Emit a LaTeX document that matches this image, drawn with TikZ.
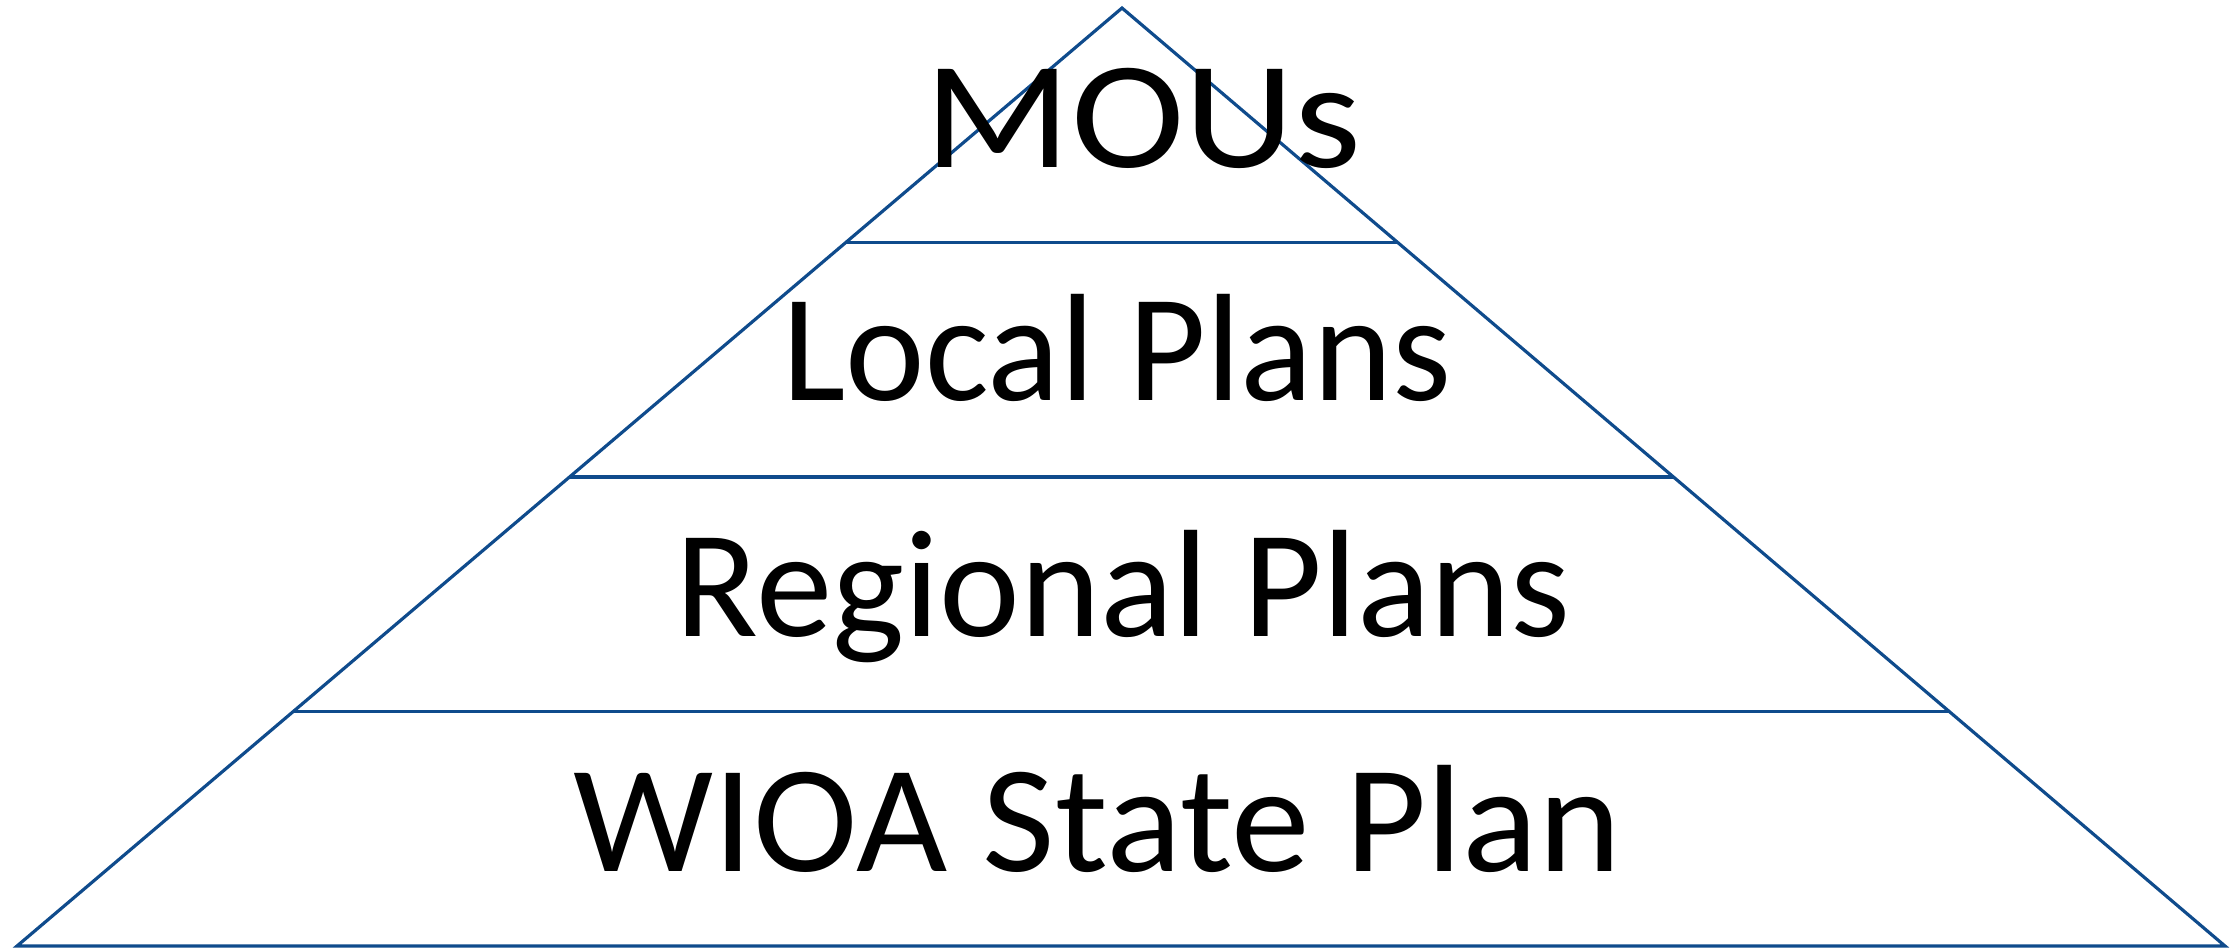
\documentclass[tikz,border=0pt]{standalone}
\usepackage{fontspec}
\setmainfont{Carlito}
\usetikzlibrary{calc}
\definecolor{tierblue}{RGB}{15,75,140}
\tikzset{
  tier/.style={draw=tierblue,line width=0.9pt},
  tiertext/.style={font=\fontsize{43.5}{52}\selectfont,anchor=base west,inner sep=0pt,transform shape}
}
\begin{document}
\begin{tikzpicture}[x=0.01cm,y=-0.01cm]
      \useasboundingbox (0,0) rectangle (2239,947);
      \coordinate (apex) at (1122,8);
      \coordinate (bl) at (17,946);
      \coordinate (br) at (2225,946);
      \foreach \t/\n in {0.25/1,0.5/2,0.75/3} {
        \coordinate (l\n) at ($(apex)!\t!(bl)$);
        \coordinate (r\n) at ($(apex)!\t!(br)$);
      }
      \draw[tier] (bl) -- (apex) -- (br) -- cycle;
      \begin{scope}[tier]
        \draw (l1) -- (r1);
        \draw (l2) -- (r2);
        \draw (l3) -- (r3);
      \end{scope}
      \node[tiertext,xscale=1.12] (mous) at (924,167) {MOUs};
      \node[tiertext,xscale=0.985] (local) at (782,400) {Local Plans};
      \node[tiertext] (regional) at (675,636) {Regional Plans};
      \node[tiertext,xscale=1.03] (state) at (573,871) {WIOA State Plan};
    \end{tikzpicture}
\end{document}
